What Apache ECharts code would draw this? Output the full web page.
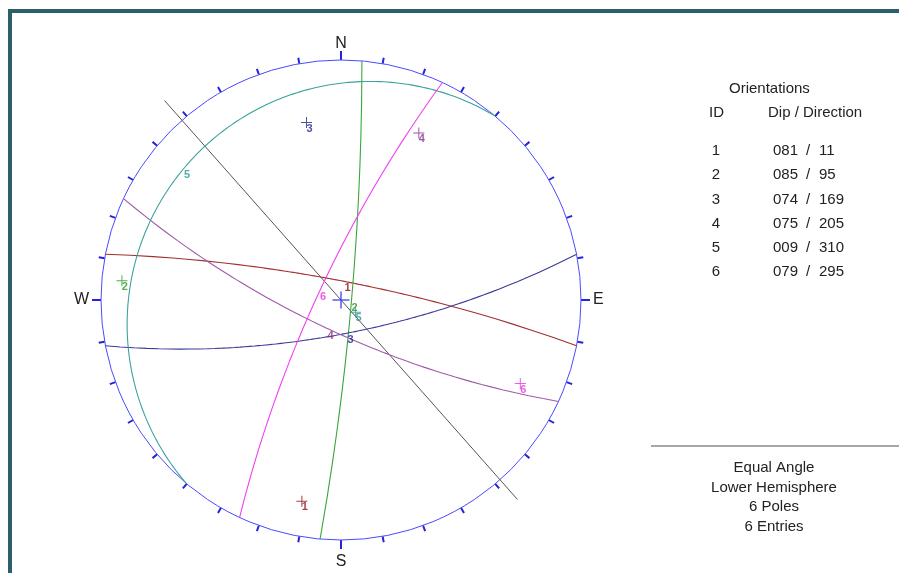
<!DOCTYPE html>
<html>
<head>
<meta charset="utf-8">
<script src="https://cdn.jsdelivr.net/npm/echarts@6/dist/echarts.min.js"></script>
<style>
	html, body { margin: 0; padding: 0; background: #fff; }
	#chart { width: 899px; height: 573px; }
</style>
</head>
<body>
<div id="chart"></div>
<script>
// plane orientations (dip / dip direction)
const ids = [1, 2, 3, 4, 5, 6];
const dips = [81, 85, 74, 75, 9, 79];
const dipDirs = [11, 95, 169, 205, 310, 295];
const setColors = ['#a0302c', '#3aa53a', '#3a3a9a', '#a05aa8', '#3aa39c', '#f040f0'];
const labelColors = ['#8b1010', '#2a9a2a', '#22228a', '#8a2a8a', '#2a9690', '#e830e0'];

// grey trace line through the centre
const traceTrends = [318.5, 138.5];
const traceReach = 1.11;

const cardinals = { 0: 'N', 90: 'E', 180: 'S', 270: 'W' };
const tableTitle = 'Orientations';
const tableHead = ['ID', 'Dip / Direction'];
const footer = ['Equal Angle', 'Lower Hemisphere', '6 Poles', '6 Entries'];

const FONT = '"Liberation Sans", Arial, sans-serif';
const rad = Math.PI / 180;
const cx = 341, cy = 300, R = 240;
const outer = 1.2; // data polar reaches a bit past the net so the trace can overshoot

// equal angle lower hemisphere: line with plunge p -> r = tan((90 - p) / 2)
function proj(plunge) {
	return Math.tan((90 - plunge) / 2 * rad);
}

function greatCircle(dip, dir) {
	let pts = [];
	for (let b = -90; b <= 90; b++) {
		let p = Math.atan(Math.tan(dip * rad) * Math.cos(b * rad)) / rad;
		pts.push([proj(p), (dir + b + 360) % 360]);
	}
	return pts;
}

const crossPath = 'path://M0,4.55h10v0.9h-10z M4.55,0h0.9v10h-0.9z';

let series = [];

// great circles
for (let i = 0; i < ids.length; i++) {
	series.push({
		type: 'line',
		coordinateSystem: 'polar',
		polarIndex: 0,
		data: greatCircle(dips[i], dipDirs[i]),
		showSymbol: false,
		silent: true,
		lineStyle: { color: setColors[i], width: 1.1 },
		z: 3
	});
}

series.push({
	type: 'line',
	coordinateSystem: 'polar',
	polarIndex: 0,
	data: traceTrends.map(t => [traceReach, t]),
	showSymbol: false,
	silent: true,
	lineStyle: { color: '#555', width: 1 },
	z: 2
});

// dip vector labels on each circle
series.push({
	type: 'scatter',
	coordinateSystem: 'polar',
	polarIndex: 0,
	symbolSize: 0,
	silent: true,
	data: ids.map((id, i) => ({
		value: [proj(dips[i]), dipDirs[i]],
		label: { color: labelColors[i] }
	})),
	label: {
		show: true,
		formatter: p => ids[p.dataIndex],
		position: 'inside',
		offset: [3, 7],
		fontSize: 11,
		fontWeight: 'bold',
		fontFamily: FONT
	},
	z: 4
});

// poles
series.push({
	type: 'scatter',
	coordinateSystem: 'polar',
	polarIndex: 0,
	symbol: crossPath,
	symbolSize: 11,
	silent: true,
	data: ids.map((id, i) => ({
		value: [proj(90 - dips[i]), (dipDirs[i] + 180) % 360],
		itemStyle: { color: labelColors[i] },
		label: { color: labelColors[i] }
	})),
	label: {
		show: true,
		formatter: p => ids[p.dataIndex],
		position: 'inside',
		offset: [3, 6],
		fontSize: 11,
		fontWeight: 'bold',
		fontFamily: FONT
	},
	z: 5
});

// centre cross
series.push({
	type: 'scatter',
	coordinateSystem: 'polar',
	polarIndex: 0,
	symbol: crossPath,
	symbolSize: 17,
	silent: true,
	data: [[0, 0]],
	itemStyle: { color: '#3333ee' },
	z: 5
});

// frame + right hand text panel
const txt = (x, y, text, align) => ({
	type: 'text', x: x, y: y,
	style: { text: text, font: '15px ' + FONT, fill: '#222', textAlign: align || 'left', textVerticalAlign: 'middle' }
});

let graphic = [
	{ type: 'rect', shape: { x: 8, y: 9, width: 891, height: 4 }, style: { fill: '#2b5f6e' } },
	{ type: 'rect', shape: { x: 8, y: 9, width: 4, height: 564 }, style: { fill: '#2b5f6e' } },
	txt(729, 89, tableTitle),
	txt(709, 113, tableHead[0]),
	txt(768, 113, tableHead[1]),
	{ type: 'line', shape: { x1: 651, y1: 446, x2: 899, y2: 446 }, style: { stroke: '#8a8a8a', lineWidth: 1.5 } }
];

ids.forEach((id, i) => {
	let y = 151 + i * 24.2;
	graphic.push(
		txt(716, y, String(id), 'center'),
		txt(773, y, String(dips[i]).padStart(3, '0')),
		txt(808, y, '/', 'center'),
		txt(819, y, String(dipDirs[i]))
	);
});

footer.forEach((t, i) => {
	graphic.push(txt(774, 468 + i * 19.6, t, 'center'));
});

const chart = echarts.init(document.getElementById('chart'));

const hiddenRadius = (idx, max) => ({
	polarIndex: idx, min: 0, max: max,
	axisLine: { show: false }, axisTick: { show: false }, axisLabel: { show: false }, splitLine: { show: false }
});

const option = {
	animation: false,
	backgroundColor: '#fff',
	polar: [
		{ center: [cx, cy], radius: R * outer },
		{ center: [cx, cy], radius: R },
		{ center: [cx, cy], radius: R }
	],
	angleAxis: [
		{
			polarIndex: 0, type: 'value', min: 0, max: 360, startAngle: 90, clockwise: true,
			axisLine: { show: false }, axisTick: { show: false }, axisLabel: { show: false }, splitLine: { show: false }
		},
		{
			polarIndex: 1, type: 'value', min: 0, max: 360, interval: 10,
			startAngle: 90, clockwise: true,
			axisLine: { lineStyle: { color: '#4a4aff', width: 1 } },
			axisTick: { inside: false, length: 6, lineStyle: { color: '#2424d8', width: 2 } },
			axisLabel: { show: false },
			splitLine: { show: false }
		},
		{
			polarIndex: 2, type: 'value', min: 0, max: 360, interval: 90,
			startAngle: 90, clockwise: true,
			axisLine: { show: false },
			axisTick: { inside: false, length: 9, lineStyle: { color: '#2424d8', width: 2 } },
			axisLabel: {
				margin: 8,
				formatter: v => {
					let c = cardinals[v];
					if (!c) return '';
					if (c === 'E' || c === 'W') return '{h|' + c + '}';
					if (c === 'S') return '{s|' + c + '}';
					return c;
				},
				color: '#222',
				fontSize: 16,
				fontFamily: FONT,
				rich: {
					h: { fontSize: 16, fontFamily: FONT, color: '#222', padding: [0, 4, 0, 4] },
					s: { fontSize: 16, fontFamily: FONT, color: '#222', padding: [6, 0, 0, 0] }
				}
			},
			splitLine: { show: false }
		}
	],
	radiusAxis: [hiddenRadius(0, outer), hiddenRadius(1, 1), hiddenRadius(2, 1)],
	series: series,
	graphic: graphic
};

chart.setOption(option);
</script>
</body>
</html>
